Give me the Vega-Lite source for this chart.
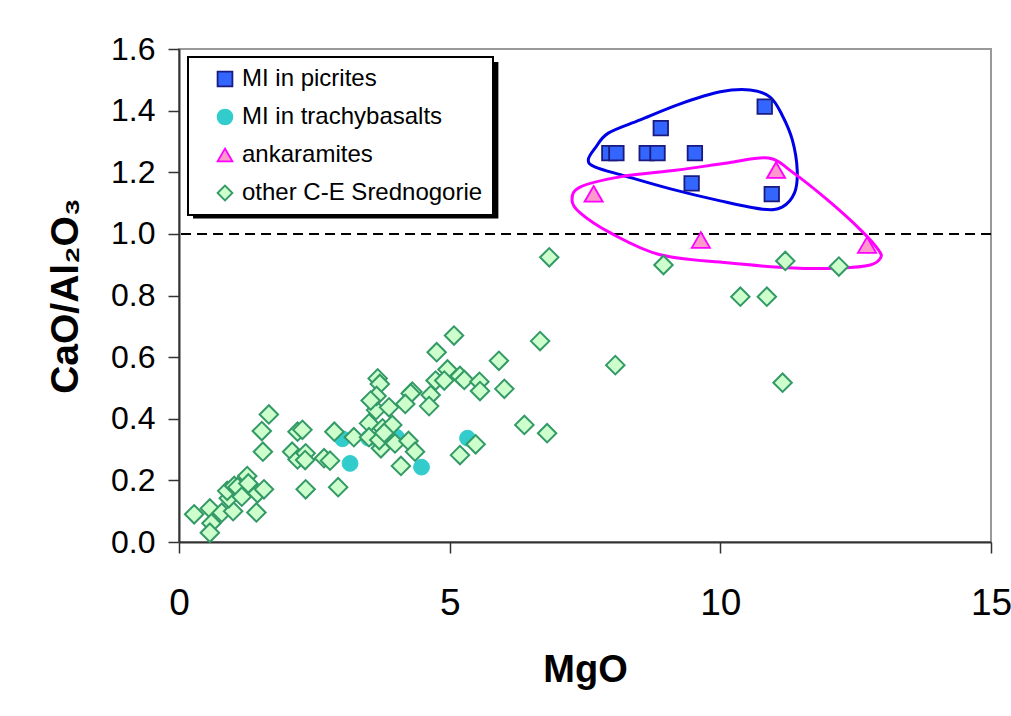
{
  "$schema": "https://vega.github.io/schema/vega-lite/v6.json",
  "width": 812,
  "height": 493,
  "autosize": {"type": "none"},
  "padding": {"left": 179, "top": 49, "right": 20, "bottom": 174},
  "background": "white",
  "config": {
    "font": "Liberation Sans",
    "view": {"stroke": "#999999", "strokeWidth": 2},
    "axis": {"grid": false, "domainColor": "#333333", "domainWidth": 2, "tickColor": "#333333", "tickWidth": 1.5, "tickSize": 11, "labelColor": "black", "titleColor": "black", "labelFont": "Liberation Sans", "titleFont": "Liberation Sans"},
    "legend": {"orient": "none", "legendX": 9, "legendY": 8, "strokeColor": "black", "strokeWidth": 2, "fillColor": "white", "padding": 10, "symbolOffset": 15, "labelFontSize": 24, "labelFont": "Liberation Sans", "labelColor": "black", "symbolSize": 220, "symbolStrokeWidth": 1.8, "rowPadding": 14, "labelOffset": 5, "labelLimit": 400}
  },
  "datasets": {
    "pts": [
      {"s": "MI in trachybasalts", "MgO": 3.02, "ratio": 0.335},
      {"s": "MI in trachybasalts", "MgO": 3.16, "ratio": 0.255},
      {"s": "MI in trachybasalts", "MgO": 3.50, "ratio": 0.337},
      {"s": "MI in trachybasalts", "MgO": 4.02, "ratio": 0.34},
      {"s": "MI in trachybasalts", "MgO": 4.48, "ratio": 0.243},
      {"s": "MI in trachybasalts", "MgO": 5.33, "ratio": 0.337},
      {"s": "other C-E Srednogorie", "MgO": 0.28, "ratio": 0.090},
      {"s": "other C-E Srednogorie", "MgO": 0.57, "ratio": 0.109},
      {"s": "other C-E Srednogorie", "MgO": 0.60, "ratio": 0.061},
      {"s": "other C-E Srednogorie", "MgO": 0.57, "ratio": 0.030},
      {"s": "other C-E Srednogorie", "MgO": 0.79, "ratio": 0.095},
      {"s": "other C-E Srednogorie", "MgO": 1.00, "ratio": 0.100},
      {"s": "other C-E Srednogorie", "MgO": 0.92, "ratio": 0.142},
      {"s": "other C-E Srednogorie", "MgO": 0.89, "ratio": 0.166},
      {"s": "other C-E Srednogorie", "MgO": 1.02, "ratio": 0.182},
      {"s": "other C-E Srednogorie", "MgO": 1.08, "ratio": 0.178},
      {"s": "other C-E Srednogorie", "MgO": 1.16, "ratio": 0.147},
      {"s": "other C-E Srednogorie", "MgO": 1.26, "ratio": 0.214},
      {"s": "other C-E Srednogorie", "MgO": 1.28, "ratio": 0.190},
      {"s": "other C-E Srednogorie", "MgO": 1.45, "ratio": 0.158},
      {"s": "other C-E Srednogorie", "MgO": 1.57, "ratio": 0.171},
      {"s": "other C-E Srednogorie", "MgO": 1.43, "ratio": 0.096},
      {"s": "other C-E Srednogorie", "MgO": 1.55, "ratio": 0.293},
      {"s": "other C-E Srednogorie", "MgO": 1.53, "ratio": 0.360},
      {"s": "other C-E Srednogorie", "MgO": 1.66, "ratio": 0.414},
      {"s": "other C-E Srednogorie", "MgO": 2.09, "ratio": 0.293},
      {"s": "other C-E Srednogorie", "MgO": 2.19, "ratio": 0.358},
      {"s": "other C-E Srednogorie", "MgO": 2.28, "ratio": 0.364},
      {"s": "other C-E Srednogorie", "MgO": 2.19, "ratio": 0.268},
      {"s": "other C-E Srednogorie", "MgO": 2.34, "ratio": 0.288},
      {"s": "other C-E Srednogorie", "MgO": 2.33, "ratio": 0.266},
      {"s": "other C-E Srednogorie", "MgO": 2.68, "ratio": 0.272},
      {"s": "other C-E Srednogorie", "MgO": 2.79, "ratio": 0.264},
      {"s": "other C-E Srednogorie", "MgO": 2.34, "ratio": 0.171},
      {"s": "other C-E Srednogorie", "MgO": 2.94, "ratio": 0.178},
      {"s": "other C-E Srednogorie", "MgO": 2.87, "ratio": 0.358},
      {"s": "other C-E Srednogorie", "MgO": 3.23, "ratio": 0.340},
      {"s": "other C-E Srednogorie", "MgO": 3.51, "ratio": 0.385},
      {"s": "other C-E Srednogorie", "MgO": 3.51, "ratio": 0.340},
      {"s": "other C-E Srednogorie", "MgO": 3.64, "ratio": 0.428},
      {"s": "other C-E Srednogorie", "MgO": 5.08, "ratio": 0.670},
      {"s": "other C-E Srednogorie", "MgO": 4.76, "ratio": 0.616},
      {"s": "other C-E Srednogorie", "MgO": 6.67, "ratio": 0.652},
      {"s": "other C-E Srednogorie", "MgO": 5.91, "ratio": 0.588},
      {"s": "other C-E Srednogorie", "MgO": 4.96, "ratio": 0.560},
      {"s": "other C-E Srednogorie", "MgO": 4.74, "ratio": 0.524},
      {"s": "other C-E Srednogorie", "MgO": 4.90, "ratio": 0.524},
      {"s": "other C-E Srednogorie", "MgO": 5.19, "ratio": 0.539},
      {"s": "other C-E Srednogorie", "MgO": 5.27, "ratio": 0.526},
      {"s": "other C-E Srednogorie", "MgO": 5.55, "ratio": 0.520},
      {"s": "other C-E Srednogorie", "MgO": 5.56, "ratio": 0.490},
      {"s": "other C-E Srednogorie", "MgO": 6.01, "ratio": 0.497},
      {"s": "other C-E Srednogorie", "MgO": 3.67, "ratio": 0.531},
      {"s": "other C-E Srednogorie", "MgO": 3.71, "ratio": 0.513},
      {"s": "other C-E Srednogorie", "MgO": 3.65, "ratio": 0.474},
      {"s": "other C-E Srednogorie", "MgO": 3.54, "ratio": 0.459},
      {"s": "other C-E Srednogorie", "MgO": 3.88, "ratio": 0.437},
      {"s": "other C-E Srednogorie", "MgO": 4.31, "ratio": 0.488},
      {"s": "other C-E Srednogorie", "MgO": 4.28, "ratio": 0.482},
      {"s": "other C-E Srednogorie", "MgO": 4.18, "ratio": 0.448},
      {"s": "other C-E Srednogorie", "MgO": 4.65, "ratio": 0.477},
      {"s": "other C-E Srednogorie", "MgO": 4.62, "ratio": 0.441},
      {"s": "other C-E Srednogorie", "MgO": 3.76, "ratio": 0.369},
      {"s": "other C-E Srednogorie", "MgO": 3.94, "ratio": 0.380},
      {"s": "other C-E Srednogorie", "MgO": 3.73, "ratio": 0.304},
      {"s": "other C-E Srednogorie", "MgO": 3.99, "ratio": 0.320},
      {"s": "other C-E Srednogorie", "MgO": 4.24, "ratio": 0.328},
      {"s": "other C-E Srednogorie", "MgO": 4.36, "ratio": 0.293},
      {"s": "other C-E Srednogorie", "MgO": 4.10, "ratio": 0.247},
      {"s": "other C-E Srednogorie", "MgO": 5.19, "ratio": 0.282},
      {"s": "other C-E Srednogorie", "MgO": 5.48, "ratio": 0.317},
      {"s": "other C-E Srednogorie", "MgO": 6.38, "ratio": 0.380},
      {"s": "other C-E Srednogorie", "MgO": 6.80, "ratio": 0.353},
      {"s": "other C-E Srednogorie", "MgO": 6.84, "ratio": 0.924},
      {"s": "other C-E Srednogorie", "MgO": 8.95, "ratio": 0.899},
      {"s": "other C-E Srednogorie", "MgO": 11.20, "ratio": 0.912},
      {"s": "other C-E Srednogorie", "MgO": 10.37, "ratio": 0.796},
      {"s": "other C-E Srednogorie", "MgO": 10.86, "ratio": 0.796},
      {"s": "other C-E Srednogorie", "MgO": 8.06, "ratio": 0.574},
      {"s": "other C-E Srednogorie", "MgO": 11.15, "ratio": 0.517},
      {"s": "other C-E Srednogorie", "MgO": 12.19, "ratio": 0.894},
      {"s": "other C-E Srednogorie", "MgO": 3.70, "ratio": 0.331},
      {"s": "other C-E Srednogorie", "MgO": 3.79, "ratio": 0.354},
      {"s": "MI in picrites", "MgO": 10.82, "ratio": 1.413},
      {"s": "MI in picrites", "MgO": 8.90, "ratio": 1.343},
      {"s": "MI in picrites", "MgO": 7.95, "ratio": 1.262},
      {"s": "MI in picrites", "MgO": 8.08, "ratio": 1.262},
      {"s": "MI in picrites", "MgO": 8.64, "ratio": 1.262},
      {"s": "MI in picrites", "MgO": 8.84, "ratio": 1.262},
      {"s": "MI in picrites", "MgO": 9.53, "ratio": 1.262},
      {"s": "MI in picrites", "MgO": 9.47, "ratio": 1.164},
      {"s": "MI in picrites", "MgO": 10.95, "ratio": 1.129},
      {"s": "ankaramites", "MgO": 7.66, "ratio": 1.13},
      {"s": "ankaramites", "MgO": 11.03, "ratio": 1.207},
      {"s": "ankaramites", "MgO": 9.64, "ratio": 0.98},
      {"s": "ankaramites", "MgO": 12.71, "ratio": 0.964}
    ],
    "blueOutline": [
      {"i": 1, "MgO": 7.93, "ratio": 1.327},
      {"i": 2, "MgO": 8.52, "ratio": 1.370},
      {"i": 3, "MgO": 9.26, "ratio": 1.422},
      {"i": 4, "MgO": 10.00, "ratio": 1.461},
      {"i": 5, "MgO": 10.55, "ratio": 1.467},
      {"i": 6, "MgO": 10.92, "ratio": 1.444},
      {"i": 7, "MgO": 11.14, "ratio": 1.386},
      {"i": 8, "MgO": 11.33, "ratio": 1.305},
      {"i": 9, "MgO": 11.42, "ratio": 1.207},
      {"i": 10, "MgO": 11.37, "ratio": 1.133},
      {"i": 11, "MgO": 11.14, "ratio": 1.087},
      {"i": 12, "MgO": 10.78, "ratio": 1.080},
      {"i": 13, "MgO": 10.00, "ratio": 1.107},
      {"i": 14, "MgO": 9.08, "ratio": 1.146},
      {"i": 15, "MgO": 8.24, "ratio": 1.188},
      {"i": 16, "MgO": 7.69, "ratio": 1.217},
      {"i": 17, "MgO": 7.56, "ratio": 1.240},
      {"i": 18, "MgO": 7.69, "ratio": 1.279}
    ],
    "magentaOutline": [
      {"i": 1, "MgO": 10.89, "ratio": 1.246},
      {"i": 2, "MgO": 11.35, "ratio": 1.198},
      {"i": 3, "MgO": 11.98, "ratio": 1.110},
      {"i": 4, "MgO": 12.59, "ratio": 1.013},
      {"i": 5, "MgO": 12.92, "ratio": 0.948},
      {"i": 6, "MgO": 12.96, "ratio": 0.922},
      {"i": 7, "MgO": 12.77, "ratio": 0.899},
      {"i": 8, "MgO": 12.22, "ratio": 0.889},
      {"i": 9, "MgO": 11.35, "ratio": 0.889},
      {"i": 10, "MgO": 10.13, "ratio": 0.906},
      {"i": 11, "MgO": 8.89, "ratio": 0.932},
      {"i": 12, "MgO": 7.97, "ratio": 1.003},
      {"i": 13, "MgO": 7.41, "ratio": 1.068},
      {"i": 14, "MgO": 7.26, "ratio": 1.110},
      {"i": 15, "MgO": 7.41, "ratio": 1.152},
      {"i": 16, "MgO": 8.15, "ratio": 1.185},
      {"i": 17, "MgO": 9.21, "ratio": 1.207},
      {"i": 18, "MgO": 10.13, "ratio": 1.230}
    ],
    "shadow": [
      {"x1": 0.259, "x2": 5.9, "y1": 1.558, "y2": 1.05}
    ],
    "ref": [
      {"ratio": 1.0}
    ]
  },
  "layer": [
    {
      "data": {"name": "ref"},
      "mark": {"type": "rule", "color": "black", "strokeWidth": 2, "strokeDash": [10, 6]},
      "encoding": {
        "y": {"field": "ratio", "type": "quantitative", "scale": {"domain": [0, 1.6], "nice": false}}
      }
    },
    {
      "data": {"name": "blueOutline"},
      "mark": {"type": "line", "interpolate": "cardinal-closed", "color": "#0000e6", "strokeWidth": 3},
      "encoding": {
        "x": {"field": "MgO", "type": "quantitative"},
        "y": {"field": "ratio", "type": "quantitative"},
        "order": {"field": "i", "type": "quantitative"}
      }
    },
    {
      "data": {"name": "magentaOutline"},
      "mark": {"type": "line", "interpolate": "cardinal-closed", "color": "#ff00ff", "strokeWidth": 3},
      "encoding": {
        "x": {"field": "MgO", "type": "quantitative"},
        "y": {"field": "ratio", "type": "quantitative"},
        "order": {"field": "i", "type": "quantitative"}
      }
    },
    {
      "data": {"name": "pts"},
      "layer": [
        {"transform": [{"filter": "datum.s === 'MI in trachybasalts'"}], "mark": {"type": "point", "filled": true, "size": 250, "strokeWidth": 1, "opacity": 1}},
        {"transform": [{"filter": "datum.s === 'other C-E Srednogorie'"}], "mark": {"type": "point", "filled": true, "size": 340, "strokeWidth": 2, "opacity": 1}},
        {"transform": [{"filter": "datum.s === 'MI in picrites'"}], "mark": {"type": "point", "filled": true, "size": 210, "strokeWidth": 1.8, "opacity": 1}},
        {"transform": [{"filter": "datum.s === 'ankaramites'"}], "mark": {"type": "point", "filled": true, "size": 330, "strokeWidth": 1.8, "opacity": 1}}
      ],
      "encoding": {
        "x": {
          "field": "MgO", "type": "quantitative",
          "scale": {"domain": [0, 15], "nice": false},
          "axis": {"values": [0, 5, 10, 15], "labelFontSize": 37, "labelPadding": 32, "labelFlush": false, "title": "MgO", "titleFontSize": 38, "titleFontWeight": "bold", "titlePadding": 30}
        },
        "y": {
          "field": "ratio", "type": "quantitative",
          "scale": {"domain": [0, 1.6], "nice": false},
          "axis": {"values": [0, 0.2, 0.4, 0.6, 0.8, 1.0, 1.2, 1.4, 1.6], "format": ".1f", "labelFontSize": 32, "labelPadding": 13, "title": "CaO/Al₂O₃", "titleFontSize": 39, "titleFontWeight": "bold", "titlePadding": 25}
        },
        "shape": {
          "field": "s", "type": "nominal",
          "scale": {"domain": ["MI in picrites", "MI in trachybasalts", "ankaramites", "other C-E Srednogorie"], "range": ["square", "circle", "triangle-up", "diamond"]},
          "legend": {"title": null}
        },
        "fill": {
          "field": "s", "type": "nominal",
          "scale": {"domain": ["MI in picrites", "MI in trachybasalts", "ankaramites", "other C-E Srednogorie"], "range": ["#3366ff", "#33cccc", "#ff99cc", "#ccffcc"]},
          "legend": {"title": null}
        },
        "stroke": {
          "field": "s", "type": "nominal",
          "scale": {"domain": ["MI in picrites", "MI in trachybasalts", "ankaramites", "other C-E Srednogorie"], "range": ["#1a1a80", "#33cccc", "#ff00ff", "#339966"]},
          "legend": {"title": null}
        }
      }
    },
    {
      "data": {"name": "shadow"},
      "mark": {"type": "rect", "color": "black"},
      "encoding": {
        "x": {"field": "x1", "type": "quantitative"},
        "x2": {"field": "x2"},
        "y": {"field": "y1", "type": "quantitative"},
        "y2": {"field": "y2"}
      }
    }
  ]
}
